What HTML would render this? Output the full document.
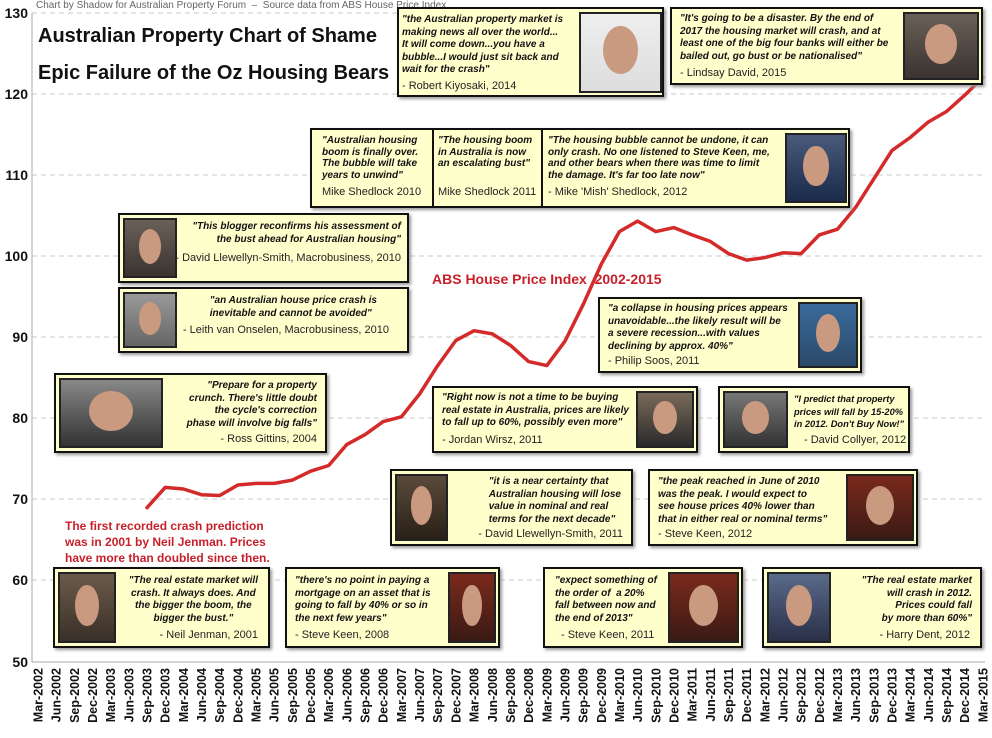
<!DOCTYPE html>
<html><head><meta charset="utf-8"><style>
body{margin:0;width:992px;height:738px;background:#fff;position:relative;overflow:hidden;font-family:"Liberation Sans",sans-serif}
.b{position:absolute;background:#ffffcc;border:2px solid #111;box-shadow:2px 2px 3px #999;box-sizing:border-box}
.q{position:absolute;font:italic bold 10px/12.5px "Liberation Sans",sans-serif;color:#111;white-space:nowrap}
.a{position:absolute;font:11px "Liberation Sans",sans-serif;color:#222;white-space:nowrap}
.p{position:absolute;border:2px solid #222;box-sizing:border-box;overflow:hidden;background:linear-gradient(#6a6058,#3a3330)}
.p::after{content:"";position:absolute;left:28%;top:16%;width:44%;height:62%;border-radius:50%;background:#c99a80}
.p.r{background:linear-gradient(#7a2a1c,#3a1a14)}
.p.w{background:linear-gradient(#eee,#ddd)}
.t{position:absolute;font-weight:bold;color:#111}
.red{position:absolute;color:#c8202a;font-weight:bold}
</style></head><body>
<svg width="992" height="738" style="position:absolute;left:0;top:0">
<g stroke="#c8c8c8" stroke-dasharray="5,4" stroke-width="1">
<line x1="32" x2="985" y1="13" y2="13"/><line x1="32" x2="985" y1="94" y2="94"/><line x1="32" x2="985" y1="175" y2="175"/><line x1="32" x2="985" y1="256" y2="256"/><line x1="32" x2="985" y1="337" y2="337"/><line x1="32" x2="985" y1="418" y2="418"/><line x1="32" x2="985" y1="499" y2="499"/><line x1="32" x2="985" y1="580" y2="580"/>
</g>
<line x1="32" x2="32" y1="13" y2="662" stroke="#aaa"/>
<line x1="32" x2="985" y1="662" y2="662" stroke="#aaa"/>
<g font-family="Liberation Sans" font-weight="bold" font-size="14" text-anchor="end" fill="#111">
<text x="28" y="18">130</text><text x="28" y="99">120</text><text x="28" y="180">110</text><text x="28" y="261">100</text><text x="28" y="342">90</text><text x="28" y="423">80</text><text x="28" y="504">70</text><text x="28" y="585">60</text><text x="28" y="667">50</text>
</g>
<g id="xl" font-family="Liberation Sans" font-weight="bold" font-size="12.5" text-anchor="end" fill="#111"></g>
<polyline fill="none" stroke="#d42a2a" stroke-width="3.5" stroke-linejoin="round" stroke-linecap="round" points="147,507.7 165.2,487.4 183.4,489 201.5,494.7 219.7,495.5 237.9,485 256,483.4 274.2,483.4 292.4,480.1 310.6,471.2 328.7,465.5 346.9,444.4 365.1,434.6 383.2,421.6 401.4,416.8 419.6,394 437.7,365.6 455.9,340.4 474.1,330.7 492.3,333.9 510.4,345.3 528.6,361.6 546.8,365.6 564.9,341.3 583.1,304.7 601.3,264.1 619.4,231.6 637.6,221.1 655.8,231.6 673.9,227.6 692.1,234.9 710.3,241.4 728.5,253.6 746.6,260.1 764.8,257.6 783,252.8 801.1,253.6 819.3,234.9 837.5,229.2 855.7,207.3 873.8,178.9 892,150.4 910.2,137.5 928.3,122 946.5,111.5 964.7,95.2 982.8,77.4"/>
</svg>
<script>
var g=document.getElementById('xl'),m=['Mar','Jun','Sep','Dec'],s='';
for(var i=0;i<53;i++){var y=2002+Math.floor(i/4),x=38+18.17*i;
s+='<text transform="translate('+(x+4.5)+',668) rotate(-90)">'+m[i%4]+'-'+y+'</text>';}
g.innerHTML=s;
</script>
<div style="position:absolute;left:36px;top:0;font-size:10px;color:#666">Chart by Shadow for Australian Property Forum &nbsp;–&nbsp; Source data from ABS House Price Index</div>
<div class="t" style="left:38px;top:25px;font-size:20px">Australian Property Chart of Shame</div>
<div class="t" style="left:38px;top:62px;font-size:20px">Epic Failure of the Oz Housing Bears</div>
<div class="red" style="left:432px;top:271px;font-size:14px">ABS House Price Index &nbsp;2002-2015</div>
<div class="red" style="left:65px;top:518px;font-size:12px;line-height:16px">The first recorded crash prediction<br>was in 2001 by Neil Jenman. Prices<br>have more than doubled since then.</div>

<div class="b" style="left:397px;top:7px;width:267px;height:90px"><div class="q" style="left:3px;top:5px">"the Australian property market is<br>making news all over the world...<br>It will come down...you have a<br>bubble...I would just sit back and<br>wait for the crash"</div><div class="a" style="left:3px;top:71px">- Robert Kiyosaki, 2014</div><div class="p w" style="left:180px;top:3px;width:83px;height:81px"></div></div>

<div class="b" style="left:670px;top:7px;width:313px;height:78px"><div class="q" style="left:8px;top:4px">"It's going to be a disaster. By the end of<br>2017 the housing market will crash, and at<br>least one of the big four banks will either be<br>bailed out, go bust or be nationalised"</div><div class="a" style="left:8px;top:58px">- Lindsay David, 2015</div><div class="p" style="left:231px;top:3px;width:76px;height:68px"></div></div>

<div class="b" style="left:310px;top:128px;width:540px;height:80px"><div style="position:absolute;left:120px;top:0;width:2px;height:76px;background:#111"></div><div style="position:absolute;left:229px;top:0;width:2px;height:76px;background:#111"></div>
<div class="q" style="left:10px;top:5px;line-height:11.5px">"Australian housing<br>boom is finally over.<br>The bubble will take<br>years to unwind"</div><div class="a" style="left:10px;top:56px">Mike Shedlock 2010</div>
<div class="q" style="left:126px;top:5px;line-height:11.5px">"The housing boom<br>in Australia is now<br>an escalating bust"</div><div class="a" style="left:126px;top:56px">Mike Shedlock 2011</div>
<div class="q" style="left:236px;top:5px;line-height:11.5px">"The housing bubble cannot be undone, it can<br>only crash. No one listened to Steve Keen, me,<br>and other bears when there was time to limit<br>the damage. It's far too late now"</div><div class="a" style="left:236px;top:56px">- Mike 'Mish' Shedlock, 2012</div>
<div class="p" style="left:473px;top:3px;width:62px;height:70px;background:linear-gradient(#4a5a7a,#1a2a4a)"></div></div>

<div class="b" style="left:118px;top:213px;width:291px;height:70px"><div class="p" style="left:3px;top:3px;width:54px;height:60px"></div><div class="q" style="right:6px;top:6px;text-align:right">"This blogger reconfirms his assessment of<br>the bust ahead for Australian housing"</div><div class="a" style="right:6px;top:37px">- David Llewellyn-Smith, Macrobusiness, 2010</div></div>

<div class="b" style="left:118px;top:287px;width:291px;height:66px"><div class="p" style="left:3px;top:3px;width:54px;height:56px;background:linear-gradient(#999,#666)"></div><div class="q" style="right:30px;top:6px;text-align:left">"an Australian house price crash is<br>inevitable and cannot be avoided"</div><div class="a" style="right:18px;top:35px">- Leith van Onselen, Macrobusiness, 2010</div></div>

<div class="b" style="left:54px;top:373px;width:273px;height:80px"><div class="p" style="left:3px;top:3px;width:104px;height:70px;background:linear-gradient(#888,#333)"></div><div class="q" style="right:8px;top:5px;text-align:right">"Prepare for a property<br>crunch. There's little doubt<br>the cycle's correction<br>phase will involve big falls"</div><div class="a" style="right:8px;top:58px">- Ross Gittins, 2004</div></div>

<div class="b" style="left:598px;top:297px;width:264px;height:76px"><div class="q" style="left:8px;top:4px">"a collapse in housing prices appears<br>unavoidable...the likely result will be<br>a severe recession...with values<br>declining by approx. 40%"</div><div class="a" style="left:8px;top:56px">- Philip Soos, 2011</div><div class="p" style="left:198px;top:3px;width:60px;height:66px;background:linear-gradient(#3a6a9a,#2a4a6a)"></div></div>

<div class="b" style="left:432px;top:386px;width:266px;height:67px"><div class="q" style="left:8px;top:4px">"Right now is not a time to be buying<br>real estate in Australia, prices are likely<br>to fall up to 60%, possibly even more"</div><div class="a" style="left:8px;top:46px">- Jordan Wirsz, 2011</div><div class="p" style="left:202px;top:3px;width:58px;height:57px;background:linear-gradient(#7a6a5a,#2a2a2a)"></div></div>

<div class="b" style="left:718px;top:386px;width:192px;height:67px"><div class="p" style="left:3px;top:3px;width:65px;height:57px;background:linear-gradient(#777,#333)"></div><div class="q" style="left:74px;top:5px;font-size:9.3px">"I predict that property<br>prices will fall by 15-20%<br>in 2012. Don't Buy Now!"</div><div class="a" style="left:84px;top:46px">- David Collyer, 2012</div></div>

<div class="b" style="left:390px;top:469px;width:243px;height:77px"><div class="p" style="left:3px;top:3px;width:53px;height:67px;background:linear-gradient(#5a4a3a,#2a2018)"></div><div class="q" style="right:10px;top:5px;text-align:left">"it is a near certainty that<br>Australian housing will lose<br>value in nominal and real<br>terms for the next decade"</div><div class="a" style="right:8px;top:57px">- David Llewellyn-Smith, 2011</div></div>

<div class="b" style="left:648px;top:469px;width:270px;height:77px"><div class="q" style="left:8px;top:5px">"the peak reached in June of 2010<br>was the peak. I would expect to<br>see house prices 40% lower than<br>that in either real or nominal terms"</div><div class="a" style="left:8px;top:57px">- Steve Keen, 2012</div><div class="p r" style="left:196px;top:3px;width:68px;height:67px"></div></div>

<div class="b" style="left:53px;top:567px;width:217px;height:81px"><div class="p" style="left:3px;top:3px;width:58px;height:71px;background:linear-gradient(#6a5a4a,#3a3028)"></div><div class="q" style="right:10px;top:6px;text-align:center">"The real estate market will<br>crash. It always does. And<br>the bigger the boom, the<br>bigger the bust."</div><div class="a" style="right:10px;top:60px">- Neil Jenman, 2001</div></div>

<div class="b" style="left:285px;top:567px;width:215px;height:81px"><div class="q" style="left:8px;top:6px">"there's no point in paying a<br>mortgage on an asset that is<br>going to fall by 40% or so in<br>the next few years"</div><div class="a" style="left:8px;top:60px">- Steve Keen, 2008</div><div class="p r" style="left:161px;top:3px;width:48px;height:71px"></div></div>

<div class="b" style="left:543px;top:567px;width:200px;height:81px"><div class="q" style="left:10px;top:6px">"expect something of<br>the order of &nbsp;a 20%<br>fall between now and<br>the end of 2013"</div><div class="a" style="left:16px;top:60px">- Steve Keen, 2011</div><div class="p r" style="left:123px;top:3px;width:71px;height:71px"></div></div>

<div class="b" style="left:762px;top:567px;width:220px;height:81px"><div class="p" style="left:3px;top:3px;width:64px;height:71px;background:linear-gradient(#5a6a8a,#2a3048)"></div><div class="q" style="right:8px;top:6px;text-align:right">"The real estate market<br>will crash in 2012.<br>Prices could fall<br>by more than 60%"</div><div class="a" style="right:10px;top:60px">- Harry Dent, 2012</div></div>
</body></html>
